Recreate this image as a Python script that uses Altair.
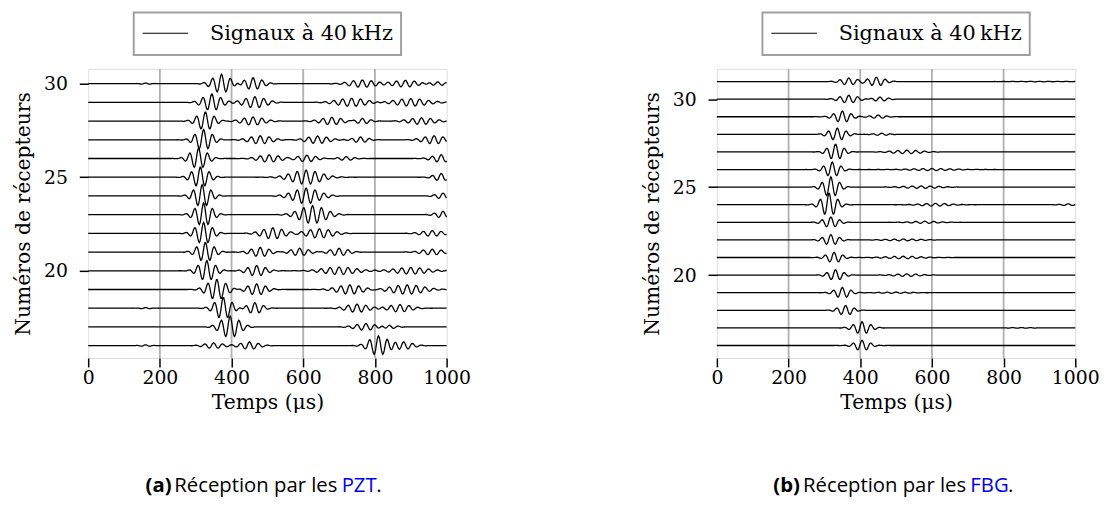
import altair as alt
import numpy as np
import pandas as pd

# ---------------- data ----------------
FREQ_MHZ = 0.040          # 40 kHz burst -> cycles per microsecond
T_STEP = 2.0
T_MAX = 1000.0

x_ticks = [0, 200, 400, 600, 800, 1000]
grid_times = [200, 400, 600, 800]
y_ticks = [20, 25, 30]

# Panel (a) - PZT receivers 30..16 : wave packets (centre us, amplitude in receiver units, width us)
pzt_receivers = [30, 29, 28, 27, 26, 25, 24, 23, 22, 21, 20, 19, 18, 17, 16]
pzt_packets = [
    [(160, .03, 15), (372, .50, 24), (460, .32, 25), (765, .20, 35), (885, .18, 35), (975, .10, 25)],
    [(345, .45, 24), (465, .30, 30), (735, .22, 40), (900, .20, 45)],
    [(327, .50, 22), (460, .22, 30), (680, .20, 30), (765, .15, 20), (930, .18, 35)],
    [(322, .55, 22), (480, .22, 30), (640, .20, 30), (760, .15, 20), (965, .22, 30)],
    [(308, .55, 22), (505, .20, 30), (610, .18, 25), (720, .10, 20), (985, .20, 25)],
    [(313, .55, 22), (608, .38, 40), (985, .20, 20)],
    [(318, .60, 22), (608, .42, 35), (990, .15, 20)],
    [(322, .62, 22), (626, .48, 35), (990, .18, 20)],
    [(322, .58, 22), (515, .30, 30), (645, .25, 35), (960, .15, 30)],
    [(327, .52, 22), (480, .25, 25), (590, .20, 25), (700, .20, 25), (960, .15, 30)],
    [(331, .55, 22), (470, .28, 25), (700, .20, 45), (900, .18, 45)],
    [(359, .55, 25), (470, .30, 25), (730, .25, 35), (890, .25, 45)],
    [(160, .03, 15), (377, .58, 22), (465, .30, 20), (750, .22, 30), (870, .20, 30)],
    [(396, .58, 25), (775, .18, 30), (840, .10, 20)],
    [(160, .04, 15), (350, .15, 25), (450, .20, 25), (810, .52, 25), (880, .20, 25)],
]

# Panel (b) - FBG receivers 31..16
fbg_receivers = [31, 30, 29, 28, 27, 26, 25, 24, 23, 22, 21, 20, 19, 18, 17, 16]
fbg_packets = [
    [(368, .20, 22), (445, .25, 22), (900, .015, 60)],
    [(368, .22, 25), (455, .12, 20)],
    [(350, .32, 22), (450, .10, 20)],
    [(336, .35, 22), (460, .06, 20)],
    [(331, .45, 20), (530, .10, 40)],
    [(322, .42, 20), (600, .06, 60)],
    [(318, .58, 20), (570, .07, 50)],
    [(313, .66, 20), (610, .08, 40), (980, .05, 20)],
    [(318, .30, 20), (580, .06, 40)],
    [(318, .30, 20), (520, .05, 50)],
    [(327, .30, 20), (520, .07, 50)],
    [(331, .30, 20), (530, .07, 40)],
    [(350, .30, 20), (500, .04, 40)],
    [(359, .28, 20)],
    [(405, .35, 22), (850, .02, 30)],
    [(405, .30, 20)],
]

pzt_ydomain = [15.34, 30.79]
fbg_ydomain = [15.29, 31.72]

legend_label = "Signaux à 40\u2009kHz"
x_title = "Temps (μs)"
y_title = "Numéros de récepteurs"

SERIF = "DejaVu Serif"
SANS = "Open Sans"


def traces_frame(receivers, packets):
    t = np.arange(0.0, T_MAX + T_STEP / 2, T_STEP)
    rows = []
    for r, plist in zip(receivers, packets):
        y = np.full_like(t, float(r))
        for c, a, w in plist:
            y += a * np.exp(-0.5 * ((t - c) / w) ** 2) * np.cos(2 * np.pi * FREQ_MHZ * (t - c))
        rows.append(pd.DataFrame({"time": t, "value": y, "receiver": r}))
    return pd.concat(rows, ignore_index=True)


one = pd.DataFrame({"d": [0]})


def panel(receivers, packets, ydomain, letter, tag, cap_x):
    df = traces_frame(receivers, packets)
    xs = alt.Scale(domain=[0, 1000], nice=False, zero=False)
    ys = alt.Scale(domain=ydomain, nice=False, zero=False)

    grid = alt.Chart(pd.DataFrame({"g": grid_times})).mark_rule(
        color="#b0b0b0", strokeWidth=1.8
    ).encode(x=alt.X("g:Q", scale=xs))

    lines = alt.Chart(df).mark_line(color="black", strokeWidth=1.3).encode(
        x=alt.X("time:Q", scale=xs,
                axis=alt.Axis(values=x_ticks, format="d", grid=False, domain=False, tickSize=9,
                              tickWidth=1.5, tickColor="black", labelFont=SERIF, labelFontSize=19,
                              labelColor="black", labelPadding=2, title=x_title, titleFont=SERIF,
                              titleFontSize=20.5, titleFontWeight="normal", titleColor="black",
                              titlePadding=5, labelFlush=False)),
        y=alt.Y("value:Q", scale=ys,
                axis=alt.Axis(values=y_ticks, grid=False, domain=False, tickSize=9, tickWidth=1.5,
                              tickColor="black", labelFont=SERIF, labelFontSize=19,
                              labelColor="black", labelPadding=12, title=y_title, titleFont=SERIF,
                              titleFontSize=20.5, titleFontWeight="normal", titleColor="black",
                              titlePadding=10)),
        detail="receiver:N",
    )

    leg_box = alt.Chart(one).mark_rect(fill="white", stroke="#a0a0a0", strokeWidth=2).encode(
        x=alt.value(46), x2=alt.value(316), y=alt.value(-57), y2=alt.value(-14))
    leg_line = alt.Chart(one).mark_rule(color="black", strokeWidth=1.2).encode(
        x=alt.value(55), x2=alt.value(101), y=alt.value(-36))
    leg_text = alt.Chart(one).mark_text(text=legend_label, font=SERIF, fontSize=21, align="left",
                                        baseline="alphabetic", color="black").encode(
        x=alt.value(123), y=alt.value(-29))

    cap_y = 427
    fs = 20.5
    c1 = alt.Chart(one).mark_text(text=f"({letter})", font=SANS, fontSize=fs, fontWeight="bold",
                                  align="left", baseline="alphabetic", color="black").encode(
        x=alt.value(cap_x[0]), y=alt.value(cap_y))
    c2 = alt.Chart(one).mark_text(text="Réception par les", font=SANS, fontSize=fs, align="left",
                                  baseline="alphabetic", color="black").encode(
        x=alt.value(cap_x[1]), y=alt.value(cap_y))
    c3 = alt.Chart(one).mark_text(text=tag, font=SANS, fontSize=fs, align="left",
                                  baseline="alphabetic", color="#0000ee").encode(
        x=alt.value(cap_x[2]), y=alt.value(cap_y))
    c4 = alt.Chart(one).mark_text(text=".", font=SANS, fontSize=fs, align="left",
                                  baseline="alphabetic", color="black").encode(
        x=alt.value(cap_x[3]), y=alt.value(cap_y))

    return alt.layer(grid, lines, leg_box, leg_line, leg_text, c1, c2, c3, c4).properties(
        width=362, height=292)


pa = panel(pzt_receivers, pzt_packets, pzt_ydomain, "a", "PZT", [58, 87, 256, 291])
pb = panel(fbg_receivers, fbg_packets, fbg_ydomain, "b", "FBG", [57, 87, 256, 294])

chart = alt.hconcat(pa, pb, spacing=172).properties(
    padding={"left": 5, "top": 0, "right": 5, "bottom": 5}
).configure_view(stroke="black", strokeWidth=1.5).configure(background="white")

chart.save("out.html", embed_options={"renderer": "svg", "actions": False})
